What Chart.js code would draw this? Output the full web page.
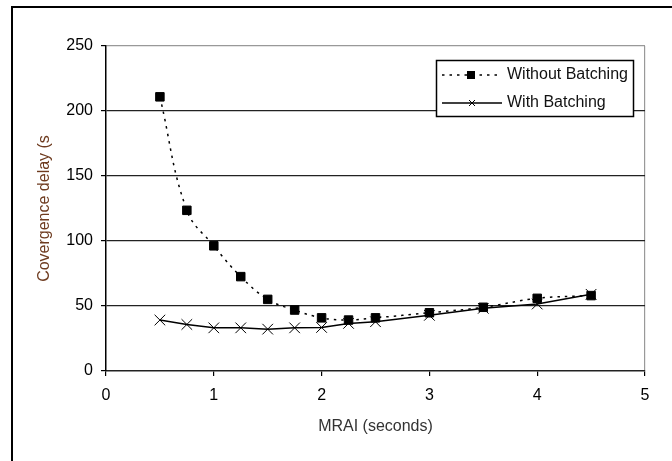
<!DOCTYPE html>
<html>
<head>
<meta charset="utf-8">
<script src="https://cdn.jsdelivr.net/npm/chart.js@4/dist/chart.umd.min.js"></script>
<style>
  html, body { margin: 0; padding: 0; background: #fff; }
  #wrap { width: 672px; height: 461px; position: relative; }
  canvas { display: block; }
</style>
</head>
<body>
<div id="wrap"><canvas id="c" width="672" height="461"></canvas></div>
<script>
// ---- data ----
const mraiValues = [0.5, 0.75, 1, 1.25, 1.5, 1.75, 2, 2.25, 2.5, 3, 3.5, 4, 4.5];
const withoutBatching = [210.9, 123.6, 96.3, 72.6, 55.1, 46.9, 40.9, 39.2, 40.9, 44.8, 49.0, 55.9, 58.0];
const withBatching = [39.2, 35.8, 33.2, 33.2, 32.2, 33.2, 33.5, 36.6, 37.9, 42.8, 48.2, 51.5, 59.0];
const seriesNames = ['Without Batching', 'With Batching'];
const xTickValues = [0, 1, 2, 3, 4, 5];
const yTickValues = [0, 50, 100, 150, 200, 250];
const xTitle = 'MRAI (seconds)';
const yTitle = 'Covergence delay (s';

const FONT = 'Liberation Sans, Arial, Helvetica, sans-serif';

function toPoints(xs, ys) { return xs.map((x, i) => ({ x: x, y: ys[i] })); }

const frame = {
  id: 'frame',
  beforeDraw(chart) {
    const ctx = chart.ctx;
    ctx.save();
    ctx.fillStyle = '#fff';
    ctx.fillRect(0, 0, chart.width, chart.height);
    ctx.strokeStyle = '#000';
    ctx.lineWidth = 2;
    ctx.strokeRect(12, 7, 700, 500);
    ctx.restore();
  }
};

const boxLegend = {
  id: 'boxLegend',
  afterDraw(chart) {
    const ctx = chart.ctx;
    ctx.save();
    const bx = 436.5, by = 60.5, bw = 197, bh = 56;
    ctx.fillStyle = '#fff';
    ctx.fillRect(bx, by, bw, bh);
    ctx.strokeStyle = '#000';
    ctx.lineWidth = 1.5;
    ctx.strokeRect(bx, by, bw, bh);

    // entry 1: dotted + square
    let y1 = 75;
    ctx.beginPath();
    ctx.setLineDash([2.5, 5]);
    ctx.lineWidth = 1.5;
    ctx.moveTo(442, y1); ctx.lineTo(501, y1);
    ctx.stroke();
    ctx.setLineDash([]);
    ctx.fillStyle = '#000';
    ctx.fillRect(467, y1 - 4, 8, 8);

    // entry 2: solid + cross
    let y2 = 103;
    ctx.beginPath();
    ctx.lineWidth = 1.5;
    ctx.moveTo(442, y2); ctx.lineTo(502, y2);
    ctx.stroke();
    ctx.beginPath();
    ctx.lineWidth = 1;
    ctx.moveTo(469, y2 - 3); ctx.lineTo(475, y2 + 3);
    ctx.moveTo(475, y2 - 3); ctx.lineTo(469, y2 + 3);
    ctx.stroke();

    ctx.fillStyle = '#111';
    ctx.font = '16px ' + FONT;
    ctx.textBaseline = 'middle';
    ctx.textAlign = 'left';
    ctx.fillText(seriesNames[0], 507, y1);
    ctx.fillText(seriesNames[1], 507, y2);
    ctx.restore();
  }
};

new Chart(document.getElementById('c'), {
  type: 'line',
  data: {
    datasets: [
      {
        label: seriesNames[0],
        data: toPoints(mraiValues, withoutBatching),
        borderColor: '#000',
        backgroundColor: '#000',
        borderWidth: 1.5,
        borderDash: [2.5, 5],
        tension: 0.4,
        pointStyle: 'rect',
        pointRadius: 6,
        pointBorderWidth: 1,
        pointBackgroundColor: '#000',
        pointBorderColor: '#000',
        fill: false
      },
      {
        label: seriesNames[1],
        data: toPoints(mraiValues, withBatching),
        borderColor: '#000',
        backgroundColor: '#000',
        borderWidth: 1.5,
        tension: 0,
        pointStyle: 'crossRot',
        pointRadius: 7.5,
        pointBorderWidth: 1,
        pointBorderColor: '#000',
        fill: false
      }
    ]
  },
  options: {
    responsive: false,
    animation: false,
    devicePixelRatio: 1,
    layout: { padding: { left: 0, top: 46, right: 27, bottom: 0 } },
    plugins: {
      legend: { display: false },
      tooltip: { enabled: false }
    },
    scales: {
      x: {
        type: 'linear',
        min: 0, max: 5,
        afterBuildTicks(scale) { scale.ticks = xTickValues.map(v => ({ value: v })); },
        afterFit(scale) { scale.height = 90; },
        ticks: {
          stepSize: 1,
          color: '#000',
          padding: 10,
          font: { family: FONT, size: 16 },
          callback: v => String(v)
        },
        grid: {
          drawOnChartArea: true,
          color: ctx => (ctx.tick && ctx.tick.value === 5) ? '#999' : 'rgba(0,0,0,0)',
          tickColor: '#000',
          tickLength: 5,
          lineWidth: 1.2
        },
        border: { display: true, color: '#222', width: 1.5 },
        title: {
          display: true,
          text: xTitle,
          color: '#333',
          font: { family: FONT, size: 16 },
          padding: { top: 0, bottom: 25 }
        }
      },
      y: {
        type: 'linear',
        min: 0, max: 250,
        afterBuildTicks(scale) { scale.ticks = yTickValues.map(v => ({ value: v })); },
        afterFit(scale) { scale.width = 106; },
        ticks: {
          stepSize: 50,
          color: '#000',
          padding: 8,
          font: { family: FONT, size: 16 },
          callback: v => String(v)
        },
        grid: {
          color: ctx => {
            if (!ctx.tick) return 'rgba(0,0,0,0)';
            if (ctx.tick.value === 250) return '#999';
            if (ctx.tick.value === 0) return 'rgba(0,0,0,0)';
            return '#222';
          },
          tickColor: '#000',
          tickLength: 5,
          lineWidth: 1.2
        },
        border: { display: true, color: '#000', width: 1.5 },
        title: {
          display: true,
          text: yTitle,
          color: '#6e3b1f',
          font: { family: FONT, size: 16 },
          padding: { top: 35, bottom: 0 }
        }
      }
    }
  },
  plugins: [frame, boxLegend]
});
</script>
</body>
</html>
